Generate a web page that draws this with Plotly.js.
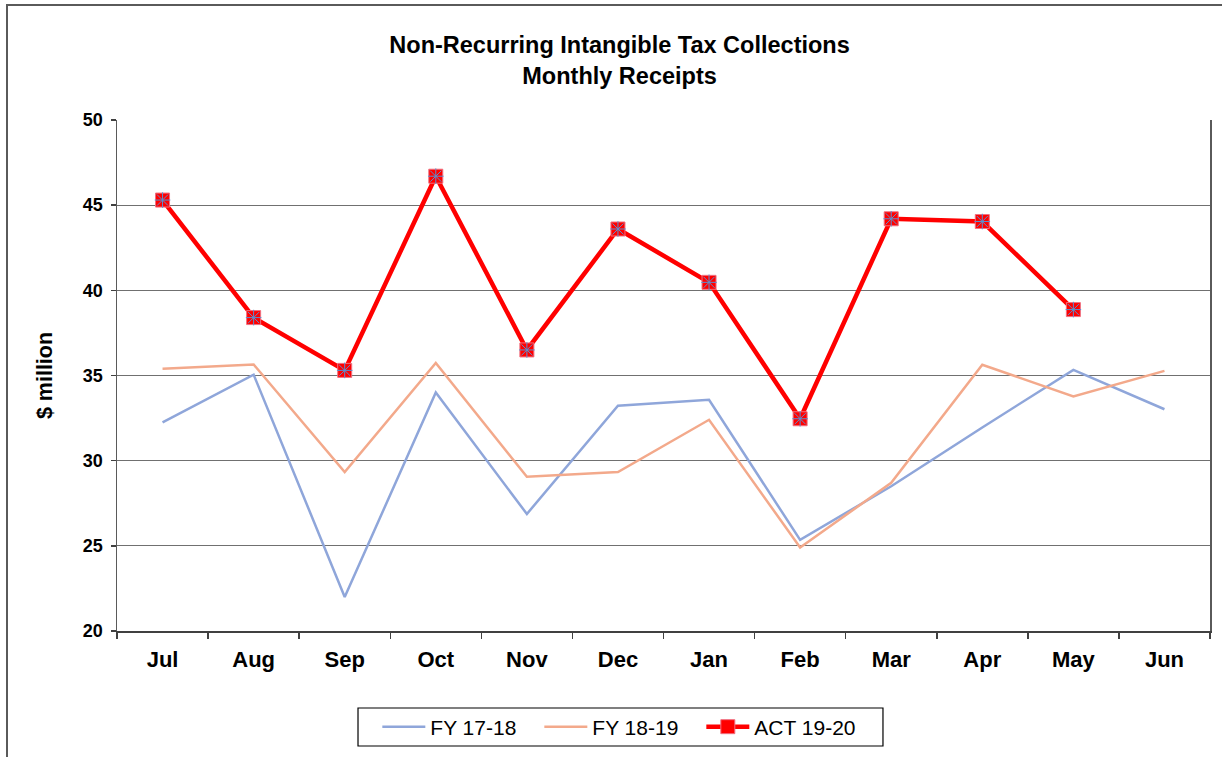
<!DOCTYPE html>
<html>
<head>
<meta charset="utf-8">
<script src="https://cdn.plot.ly/plotly-3.0.1.min.js"></script>
<style>
html,body{margin:0;padding:0;background:#fff;overflow:hidden;}
#chart{position:absolute;left:0;top:0;width:1222px;height:757px;}
#frame{position:absolute;left:6px;top:4px;width:1240px;height:800px;border-left:2px solid #5a5a5a;border-top:2px solid #5a5a5a;pointer-events:none;}
</style>
</head>
<body>
<div id="chart"></div>
<div id="frame"></div>
<script>
const months = ["Jul","Aug","Sep","Oct","Nov","Dec","Jan","Feb","Mar","Apr","May","Jun"];
const fy1718 = [32.25, 35.05, 22.0, 34.0, 26.87, 33.23, 33.57, 25.35, 28.5, 31.95, 35.33, 33.02];
const fy1819 = [35.4, 35.65, 29.33, 35.73, 29.06, 29.33, 32.4, 24.9, 28.7, 35.63, 33.77, 35.27];
const act1920 = [45.3, 38.4, 35.3, 46.7, 36.5, 43.6, 40.47, 32.46, 44.2, 44.04, 38.87];
const actMonths = months.slice(0, act1920.length);

const traces = [
  {x: months, y: fy1718, name: "FY 17-18", type: "scatter", mode: "lines",
   line: {color: "#8FA6DA", width: 2.5}},
  {x: months, y: fy1819, name: "FY 18-19", type: "scatter", mode: "lines",
   line: {color: "#F3A98B", width: 2.5}},
  {x: actMonths, y: act1920, name: "ACT 19-20", type: "scatter", mode: "lines+markers",
   line: {color: "#FF0000", width: 4.5},
   marker: {symbol: "square", size: 14, color: "#FF0000", line: {color: "#F07080", width: 1}}},
  {x: actMonths, y: act1920, name: "ACT 19-20 marks", type: "scatter", mode: "markers",
   showlegend: false, hoverinfo: "skip",
   marker: {symbol: "asterisk-open", size: 13, color: "#5B8FD0", line: {color: "#5B8FD0", width: 1}}}
];

const layout = {
  width: 1222, height: 757,
  margin: {l: 117, r: 12, t: 120, b: 126},
  paper_bgcolor: "#ffffff", plot_bgcolor: "#ffffff",
  font: {family: "Arial, Liberation Sans, sans-serif", color: "#000"},
  title: {
    text: "<b>Non-Recurring Intangible Tax Collections<br>Monthly Receipts</b>",
    font: {size: 23.5, color: "#000"},
    x: 0.507, xanchor: "center", y: 0.93, yanchor: "middle"
  },
  xaxis: {
    type: "category", range: [-0.5, 11.5], automargin: false,
    showline: true, linecolor: "#404040", linewidth: 1.5,
    ticks: "outside", tickson: "boundaries", ticklen: 6, tickcolor: "#404040", tickwidth: 1.5,
    tickfont: {size: 22, color: "#000", weight: "bold"},
    ticklabelstandoff: 8,
    showgrid: false, zeroline: false, fixedrange: true
  },
  yaxis: {
    range: [20, 50], dtick: 5, tick0: 20, automargin: false,
    showline: true, linecolor: "#5a5a5a", linewidth: 1.5, mirror: true,
    ticks: "outside", ticklen: 5, tickcolor: "#404040", tickwidth: 1.5,
    tickfont: {size: 18, color: "#000", weight: "bold"},
    ticklabelstandoff: 4,
    showgrid: true, gridcolor: "#707070", gridwidth: 1.2,
    zeroline: false, fixedrange: true,
    title: {text: "<b>$ million</b>", font: {size: 21.5, color: "#000"}, standoff: 24}
  },
  legend: {
    orientation: "h", x: 0.4605, xanchor: "center",
    yref: "container", y: 0.0396, yanchor: "middle",
    borderwidth: 0, bgcolor: "rgba(0,0,0,0)",
    font: {size: 21, color: "#000"},
    itemwidth: 43,
    entrywidth: 104, entrywidthmode: "pixels",
    traceorder: "normal"
  },
  shapes: [{
    type: "rect", xref: "paper", yref: "paper",
    x0: 0.2205, x1: 0.7008, y0: -0.225, y1: -0.1507,
    line: {color: "#000", width: 1.2}, fillcolor: "rgba(0,0,0,0)", layer: "above"
  }],
  showlegend: true
};

Plotly.newPlot("chart", traces, layout, {displayModeBar: false, staticPlot: true});
</script>
</body>
</html>
